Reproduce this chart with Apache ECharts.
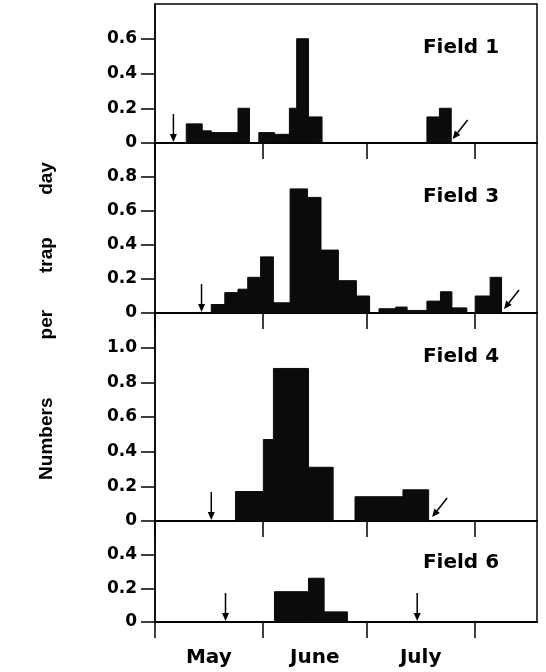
<!DOCTYPE html>
<html>
<head>
<meta charset="utf-8">
<script src="https://cdn.jsdelivr.net/npm/echarts@6/dist/echarts.min.js"></script>
<style>
html, body { margin: 0; padding: 0; background: #fff; }
#chart { width: 546px; height: 672px; }
</style>
</head>
<body>
<div id="chart"></div>
<script>
// bars are [start day, end day, value]; day 0 = 1 May
var field1Bars = [
    [9, 13.6, 0.11], [13.6, 16.2, 0.07], [16.2, 23.9, 0.06], [23.9, 27.2, 0.2],
    [29.9, 34.4, 0.06], [34.4, 38.7, 0.05], [38.7, 40.8, 0.2], [40.8, 44.2, 0.6], [44.2, 48.1, 0.15],
    [78.3, 81.9, 0.15], [81.9, 85.3, 0.2]
];
var field3Bars = [
    [16.2, 20.1, 0.05], [20.1, 23.9, 0.12], [23.9, 26.7, 0.14], [26.7, 30.4, 0.21], [30.4, 34.1, 0.33],
    [34.1, 38.9, 0.06], [38.9, 43.9, 0.73], [43.9, 47.8, 0.68], [47.8, 52.8, 0.37], [52.8, 58, 0.19],
    [58, 61.8, 0.1],
    [64.5, 69.3, 0.025], [69.3, 72.6, 0.035], [72.6, 78.3, 0.015], [78.3, 82.2, 0.07],
    [82.2, 85.5, 0.125], [85.5, 89.8, 0.03],
    [92.2, 96.5, 0.1], [96.5, 99.8, 0.21]
];
var field4Bars = [
    [23.2, 31.2, 0.17], [31.2, 34.1, 0.47], [34.1, 44.2, 0.88], [44.2, 51.3, 0.31],
    [57.6, 71.4, 0.14], [71.4, 78.8, 0.18]
];
var field6Bars = [
    [34.4, 44.2, 0.18], [44.2, 48.7, 0.26], [48.7, 55.4, 0.06]
];

// arrows: vertical ones (down) and slanted ones, by day
var downArrows = [[5.3], [13.4], [16.2], [20.3, 75.5]];
var slantArrows = [[85.7], [100.5], [79.8], []];

var fieldNames = ['Field 1', 'Field 3', 'Field 4', 'Field 6'];
var fieldMax = [0.8, 1.0, 1.2, 0.6];
var monthNames = ['May', 'June', 'July'];
var monthStarts = [0, 31, 61, 92];
var monthMids = [15.5, 46, 76.5];

var allBars = [field1Bars, field3Bars, field4Bars, field6Bars];

// panel layout in px
var panelTop = [4, 143, 313, 521];
var panelHeight = [139, 170, 208, 101];
var labelY = [48, 197, 357, 563];

var numFont = 'DejaVu Sans';
var ink = '#0b0b0b';

function renderBar(params, api) {
    var p0 = api.coord([api.value(0), 0]);
    var p1 = api.coord([api.value(1), api.value(2)]);
    return {
        type: 'rect',
        shape: { x: p0[0], y: p1[1], width: p1[0] - p0[0], height: p0[1] - p1[1] },
        style: { fill: ink, stroke: ink, lineWidth: 1 }
    };
}

function renderDown(params, api) {
    var p = api.coord([api.value(0), 0]);
    var x = p[0], y = p[1];
    return {
        type: 'group',
        children: [
            { type: 'line', shape: { x1: x, y1: y - 29, x2: x, y2: y - 6 }, style: { stroke: '#000', lineWidth: 1.5 } },
            { type: 'polygon', shape: { points: [[x - 3.5, y - 9], [x + 3.5, y - 9], [x, y - 1]] }, style: { fill: '#000' } }
        ]
    };
}

function renderSlant(params, api) {
    var p = api.coord([api.value(0), 0]);
    var tx = p[0], ty = p[1] - 4;
    var sx = tx + 15, sy = ty - 19;
    var len = Math.sqrt(15 * 15 + 19 * 19);
    var ux = (tx - sx) / len, uy = (ty - sy) / len;
    var bx = tx - 8 * ux, by = ty - 8 * uy;
    var nx = -uy, ny = ux;
    return {
        type: 'group',
        children: [
            { type: 'line', shape: { x1: sx, y1: sy, x2: bx, y2: by }, style: { stroke: '#000', lineWidth: 1.5 } },
            { type: 'polygon', shape: { points: [[tx, ty], [bx + 3.5 * nx, by + 3.5 * ny], [bx - 3.5 * nx, by - 3.5 * ny]] }, style: { fill: '#000' } }
        ]
    };
}

var grids = [], xAxes = [], yAxes = [], series = [], graphics = [];

for (var i = 0; i < 4; i++) {
    var last = i === 3;
    grids.push({
        left: 155, right: 9, top: panelTop[i], height: panelHeight[i],
        show: true, borderColor: '#000', borderWidth: 1.5
    });
    xAxes.push({
        gridIndex: i,
        type: 'value',
        min: 0,
        max: 110,
        splitLine: { show: false },
        axisLine: { onZero: false, lineStyle: { color: '#000', width: 2 } },
        axisTick: { show: true, customValues: monthStarts, length: 16, lineStyle: { color: '#000', width: 1.5 } },
        axisLabel: {
            show: last,
            customValues: monthMids,
            margin: 26,
            color: '#000',
            fontFamily: numFont,
            fontWeight: 'bold',
            fontSize: 20,
            formatter: function (v) {
                return monthNames[monthMids.indexOf(v)] || '';
            }
        }
    });
    yAxes.push({
        gridIndex: i,
        type: 'value',
        min: 0,
        max: fieldMax[i],
        interval: 0.2,
        splitLine: { show: false },
        axisLine: { show: true, lineStyle: { color: '#000', width: 1.5 } },
        axisTick: { show: true, length: 14, lineStyle: { color: '#000', width: 1.5 } },
        axisLabel: {
            showMaxLabel: false,
            margin: 18,
            color: '#000',
            fontFamily: numFont,
            fontWeight: 'bold',
            fontSize: 17,
            formatter: function (v) {
                return v === 0 ? '0' : v.toFixed(1);
            }
        }
    });
    series.push({
        type: 'custom',
        name: fieldNames[i],
        xAxisIndex: i,
        yAxisIndex: i,
        renderItem: renderBar,
        encode: { x: [0, 1], y: 2 },
        data: allBars[i]
    });
    series.push({
        type: 'custom',
        xAxisIndex: i,
        yAxisIndex: i,
        renderItem: renderDown,
        encode: { x: 0 },
        clip: false,
        data: downArrows[i].map(function (d) { return [d, 0]; })
    });
    series.push({
        type: 'custom',
        xAxisIndex: i,
        yAxisIndex: i,
        renderItem: renderSlant,
        encode: { x: 0 },
        clip: false,
        data: slantArrows[i].map(function (d) { return [d, 0]; })
    });
    graphics.push({
        type: 'text',
        x: 461,
        y: labelY[i],
        style: {
            text: fieldNames[i],
            fill: '#000',
            font: 'bold 20px "DejaVu Sans"',
            textAlign: 'center',
            textVerticalAlign: 'middle'
        }
    });
}

graphics.push({
    type: 'text',
    x: 47,
    y: 321,
    rotation: Math.PI / 2,
    style: {
        text: 'Numbers           per       trap        day',
        fill: '#000',
        font: 'bold 19px "Liberation Sans"',
        textAlign: 'center',
        textVerticalAlign: 'middle'
    }
});

var chart = echarts.init(document.getElementById('chart'));
chart.setOption({
    backgroundColor: '#fff',
    animation: false,
    grid: grids,
    xAxis: xAxes,
    yAxis: yAxes,
    series: series,
    graphic: graphics
});
</script>
</body>
</html>
